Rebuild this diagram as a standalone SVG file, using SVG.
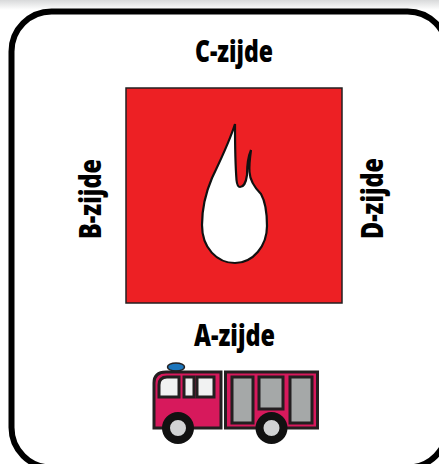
<svg xmlns="http://www.w3.org/2000/svg" width="439" height="464" viewBox="0 0 439 464">
<style>
.t{font-family:"Open Sans","Noto Sans",sans-serif;font-weight:800;font-size:30px;fill:#000;text-anchor:middle}
.k{stroke:#231f20;stroke-width:3}
.w{fill:#f1f2f2}.g{fill:#a5a8a8}
.wheel{fill:#d1d3d4;stroke:#111;stroke-width:8}
</style>
<defs><linearGradient id="top" x1="0" y1="0" x2="0" y2="1"><stop offset="0" stop-color="#d8d9da"/><stop offset="1" stop-color="#ffffff"/></linearGradient></defs>
<rect width="439" height="464" fill="#fff"/>
<rect width="439" height="10" fill="url(#top)"/>
<rect id="frame" x="11.5" y="11.5" width="436" height="456" rx="40" fill="#fff" stroke="#000" stroke-width="6"/>
<g id="fire-area">
<rect x="126" y="88" width="216" height="215" fill="#ed2024" stroke="#231f20" stroke-width="1.5"/>
<path d="M235 124C229 143 220 161 212 178C206 192 202 208 202 225C202 248 217 263 235 263C253 263 267 246 267 226C267 212 265 201 261 194C255 188 250 181 249.500 172C249 165 250 157 251 150C248 157 247 166 247 175C246 183 243 187 240 187C238 187 237 185 236.500 180C235 160 235 140 235 124Z" fill="#fff" stroke="#111" stroke-width="2.200"/>
</g>
<text id="c-zijde" class="t" x="234" y="62" textLength="78" lengthAdjust="spacingAndGlyphs">C-zijde</text>
<text id="a-zijde" class="t" x="234.500" y="346" textLength="81" lengthAdjust="spacingAndGlyphs">A-zijde</text>
<text id="b-zijde" class="t" transform="translate(101 199) rotate(-90)" textLength="80" lengthAdjust="spacingAndGlyphs">B-zijde</text>
<text id="d-zijde" class="t" transform="translate(383 198.500) rotate(-90)" textLength="81" lengthAdjust="spacingAndGlyphs">D-zijde</text>
<g id="truck">
<ellipse cx="176" cy="367" rx="8.500" ry="4" fill="#1b75bc" stroke="#231f20" stroke-width="1.500"/>
<path class="k" d="M154 428V383Q154 372 166 372H221V428Z" fill="#d7195c"/>
<rect class="k" x="225.500" y="372" width="92" height="56" fill="#d7195c"/>
<path class="k w" d="M159 397V385Q159 377 167 377H179V397Z"/>
<rect class="k w" x="184" y="377" width="10" height="20"/>
<rect class="k w" x="197" y="377" width="17" height="20"/>
<rect class="k g" x="232" y="377" width="21" height="46"/>
<rect class="k g" x="259" y="377" width="24" height="32"/>
<rect class="k g" x="290" y="377" width="22" height="46"/>
<circle class="wheel" cx="178" cy="428" r="12"/>
<circle class="wheel" cx="271.500" cy="428" r="12"/>
</g>
</svg>
